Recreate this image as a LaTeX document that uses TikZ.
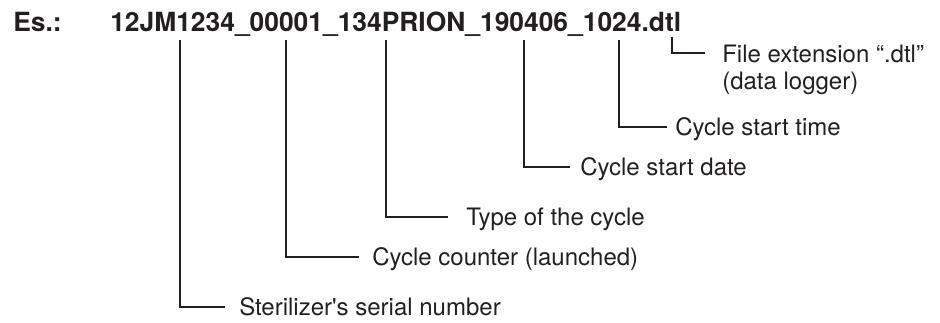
\documentclass[tikz,border=0pt]{standalone}
\usepackage{fontspec}
\setmainfont{TeX Gyre Heros}
\definecolor{ink}{HTML}{231F20}
\begin{document}
\begin{tikzpicture}[x=0.75pt,y=-0.75pt,
  leader/.style={draw=ink, line width=1.4pt},
  title/.style={font=\fontsize{19.8}{24}\selectfont\bfseries, anchor=base west, inner sep=0pt, text=ink},
  lab/.style={font=\fontsize{18}{20.25}\selectfont, anchor=west, inner sep=0pt, text height=13pt, text depth=0pt, text=ink},
  labtwo/.style={font=\fontsize{18}{20.25}\selectfont, anchor=north west, inner sep=0pt, align=left, text=ink}]
\useasboundingbox (0,0) rectangle (940,323);
% title
\node[title] (es) at (13,32) {Es.:};
\node[title] (fn) at (110,32) {12JM1234\_00001\_134PRION\_190406\_1024.dtl};
% leader starts under the file name
\coordinate (t1) at (180,40);
\coordinate (t2) at (286,40);
\coordinate (t3) at (386,40);
\coordinate (t4) at (524,40);
\coordinate (t5) at (619,40);
\coordinate (t6) at (672,37);
% labels
\node[lab] (l1) at (239,307) {Sterilizer\textquotesingle s serial number};
\node[lab] (l2) at (372,257) {Cycle counter (launched)};
\node[lab] (l3) at (466,217) {Type of the cycle};
\node[lab] (l4) at (580,167) {Cycle start date};
\node[lab] (l5) at (675,127) {Cycle start time};
\node[labtwo] (l6) at (722,44.5) {File extension “.dtl”\\(data logger)};
% leaders
\draw[leader] (t1) |- ([shift={(-14,0)}]l1.west);
\draw[leader] (t2) |- ([shift={(-13,0)}]l2.west);
\draw[leader] (t3) |- ([shift={(-18,0)}]l3.west);
\draw[leader] (t4) |- ([shift={(-10,0)}]l4.west);
\draw[leader] (t5) |- ([shift={(-8,0)}]l5.west);
\draw[leader] (t6) |- ([shift={(-17,8.5)}]l6.north west);
\end{tikzpicture}
\end{document}
